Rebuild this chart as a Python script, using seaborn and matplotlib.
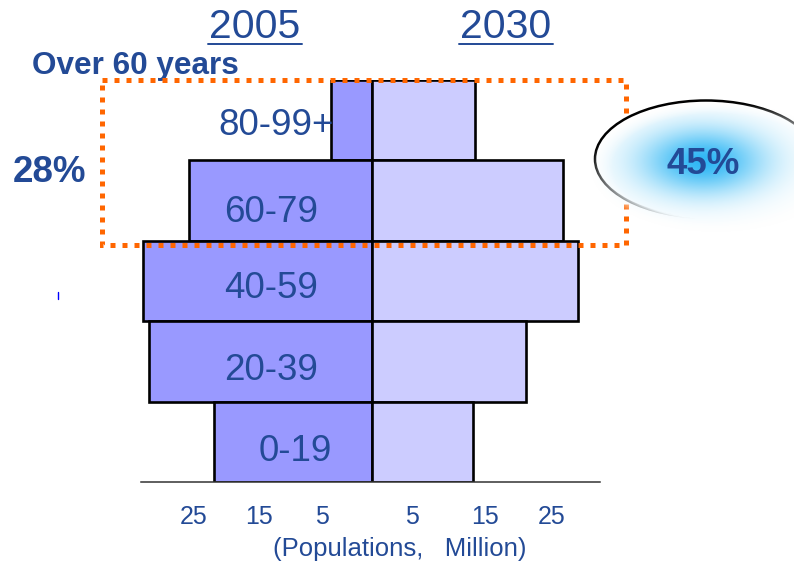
import numpy as np
import pandas as pd
import matplotlib
matplotlib.use("Agg")
import matplotlib.pyplot as plt
import seaborn as sns
from matplotlib.patches import Rectangle, Ellipse
from matplotlib.lines import Line2D
from matplotlib.transforms import ScaledTranslation

# ---- data -------------------------------------------------------------
age_groups = ["80-99+", "60-79", "40-59", "20-39", "0-19"]
pop_2005 = [6.2, 27.7, 34.7, 33.8, 23.9]     # million
pop_2030 = [15.5, 28.9, 31.2, 23.3, 15.3]    # million
years = ["2005", "2030"]
tick_values = [-25, -15, -5, 5, 15, 25]
tick_labels = ["25", "15", "5", "5", "15", "25"]
share_2005 = "28%"
share_2030 = "45%"
axis_title = "(Populations,   Million)"
group_title = "Over 60 years"

# ---- style ------------------------------------------------------------
sns.set_style("white")
plt.rcParams["font.family"] = ["Liberation Sans", "DejaVu Sans"]
TXT = "#234A96"
COL_2005 = "#9999FF"
COL_2030 = "#CCCCFF"
ORANGE = "#FF6600"

W, H = 794, 563
fig = plt.figure(figsize=(W / 100, H / 100), dpi=100)


def fx(px):
    return px / W


def fy(py):
    return 1 - py / H


ax = fig.add_axes([fx(141), fy(482), fx(600) - fx(141), fy(80) - fy(482)])

df = pd.DataFrame({
    "age": age_groups * 2,
    "pop": [-v for v in pop_2005] + list(pop_2030),
    "year": [years[0]] * len(age_groups) + [years[1]] * len(age_groups),
})

sns.barplot(data=df, x="pop", y="age", hue="year", order=age_groups,
            hue_order=years, palette={years[0]: COL_2005, years[1]: COL_2030},
            dodge=False, width=1.0, saturation=1, orient="h",
            edgecolor="black", linewidth=1.9, errorbar=None, legend=False, ax=ax)

ax.set_xlim(-35, 34.5)
ax.set_ylim(4.5, -0.5)
ax.set_xlabel("")
ax.set_ylabel("")
ax.set_yticks([])
for side in ("left", "top", "right"):
    ax.spines[side].set_visible(False)
ax.spines["bottom"].set_color("#333333")
ax.spines["bottom"].set_linewidth(1.1)
ax.set_axisbelow(False)

ax.set_xticks(tick_values, tick_labels)
ax.tick_params(axis="x", direction="in", length=3, width=0.8, color="#555555",
               pad=16.5, labelsize=18, labelcolor=TXT)
ticks = ax.xaxis.get_major_ticks()
for t, v in zip(ticks, tick_values):
    if v < 0:
        t.tick1line.set_visible(False)
        t.label1.set_horizontalalignment("right")
    else:
        t.label1.set_horizontalalignment("left")
# inner left label sits a little further out
ticks[2].label1.set_transform(ticks[2].label1.get_transform()
                              + ScaledTranslation(-10 / 100, 0, fig.dpi_scale_trans))

# age-group names inside the 2005 bars
label_x = [-14.55, -15.3, -15.3, -15.3, -11.7]
label_dy = [0.18, 0.27, 0.21, 0.23, 0.24]
for i, name in enumerate(age_groups):
    ax.text(label_x[i], i + label_dy[i], name, ha="center", va="baseline",
            fontsize=26.5, color=TXT, zorder=5)

# ---- overlay in pixel coordinates for annotations ---------------------
ov = fig.add_axes([0, 0, 1, 1], zorder=10)
ov.set_facecolor("none")
ov.axis("off")

# year headings with underline
for yr, cx, x0, x1 in [(years[0], 255, 208, 302), (years[1], 506, 459, 553)]:
    ov.text(cx, 38, yr, ha="center", va="baseline", fontsize=29.5, color=TXT)
    ov.add_line(Line2D([x0, x1], [43.5, 43.5], color=TXT, lw=1.4))

ov.text(32, 74, group_title, ha="left", va="baseline", fontsize=22.7,
        fontweight="bold", color=TXT)
ov.text(49.5, 182, share_2005, ha="center", va="baseline", fontsize=26.5,
        fontweight="bold", color=TXT)

# dotted frame around the over-60 rows
ov.add_patch(Rectangle((102, 80), 524, 165, fill=False, edgecolor=ORANGE,
                       lw=3.6, linestyle=(0, (1, 1.4)), zorder=3))

# callout bubble with soft blue glow
ov.add_patch(Ellipse((706, 159), 222, 117, facecolor="white",
                     edgecolor="black", lw=1.8, zorder=4))
gx0, gx1, gy0, gy1 = 585, 794, 92, 232
xs = np.linspace(gx0, gx1, 320)
ys = np.linspace(gy0, gy1, 220)
X, Y = np.meshgrid(xs, ys)
core = np.exp(-(((X - 703) / 62) ** 2 + ((Y - 161) / 33) ** 2))
blue = np.array([0.19, 0.72, 0.96])
rgb = 1 - core[..., None] * (1 - blue)
r = np.sqrt(((X - 716) / 112) ** 2 + ((Y - 167) / 58) ** 2)
alpha = np.clip((1.12 - r) / 0.2, 0, 1)
ov.imshow(np.dstack([rgb, alpha]), extent=(gx0, gx1, gy1, gy0),
          interpolation="bilinear", aspect="auto", zorder=5)
ov.text(703, 174, share_2030, ha="center", va="baseline", fontsize=26.5,
        fontweight="bold", color=TXT, zorder=6)

ov.add_line(Line2D([58, 58], [292, 299], color="#0000FF", lw=1))

ov.text(400, 556, axis_title, ha="center", va="baseline", fontsize=18.5,
        color=TXT)

ov.set_xlim(0, W)
ov.set_ylim(H, 0)

fig.savefig("out.png", dpi=100)
